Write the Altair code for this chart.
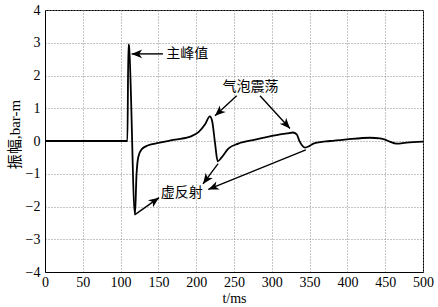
import math
import altair as alt
import pandas as pd

# signal
t_ms = [0, 109, 110.3, 111, 119, 121, 123.5, 128, 136.6, 150, 172, 194, 203, 212, 218,
        221, 225, 228.4, 233.7, 242.5, 255.7, 278, 311, 320, 328, 333, 337, 344, 350,
        355, 377, 399, 430, 443, 450, 456, 465, 478, 500]
amp = [0, 0, 2.95, 2.92, -2.25, -1.05, -0.48, -0.25, -0.13, -0.06, 0.04, 0.15, 0.27, 0.52, 0.75,
       0.62, -0.08, -0.62, -0.5, -0.23, -0.08, 0.04, 0.2, 0.23, 0.26, 0.2, -0.02, -0.2, -0.15,
       -0.08, 0, 0.05, 0.1, 0.08, 0.04, -0.02, -0.08, -0.05, -0.02]

# annotation arrows (tail -> head), data units
tail_t = [156, 253.5, 284.4, 119, 229, 345]
tail_v = [2.66, 1.38, 1.38, -2.25, -0.69, -0.27]
head_t = [114.6, 224.9, 324, 150.8, 209, 216]
head_v = [2.66, 0.77, 0.38, -1.73, -1.31, -1.48]

labels = ["主峰值", "气泡震荡", "虚反射"]
label_t = [188, 271.8, 180.8]
label_v = [2.66, 1.64, -1.6]

x_ticks = list(range(0, 501, 50))
y_ticks = list(range(-4, 5))

W, H = 378, 262
sx, sy = W / 500, H / 8

angles = []
for a, b, c, d in zip(tail_t, tail_v, head_t, head_v):
    dx = (c - a) * sx
    dy = -(d - b) * sy
    angles.append(math.degrees(math.atan2(dx, -dy)) % 360)

sig = pd.DataFrame({"t": t_ms, "v": amp})
arr = pd.DataFrame({"t": tail_t, "v": tail_v, "t2": head_t, "v2": head_v, "ang": angles})
lab = pd.DataFrame({"t": label_t, "v": label_v, "txt": labels})

xs = alt.Scale(domain=[0, 500], nice=False)
ys = alt.Scale(domain=[-4, 4], nice=False)

FONT = "Liberation Serif, Noto Sans CJK SC"

xax = alt.Axis(values=x_ticks, title="t/ms", grid=True, ticks=False,
               labelPadding=3, labelFontSize=14, labelFont=FONT, titleFont=FONT,
               titleFontSize=14, titleFontWeight="normal", titleY=19, titleBaseline="top",
               labelFlush=False, labelOverlap=False)
yax = alt.Axis(values=y_ticks, title="振幅,bar-m", grid=True, ticks=False,
               labelPadding=5, labelFontSize=14, labelFont=FONT, titleFont=FONT,
               titleFontSize=15, titleFontWeight="normal", titleX=-31, titleY=124,
               titleAngle=270, titleAlign="center", titleBaseline="middle",
               labelFlush=False, labelOverlap=False)

line = alt.Chart(sig).mark_line(color="black", strokeWidth=1.8, interpolate="monotone").encode(
    x=alt.X("t:Q", scale=xs, axis=xax),
    y=alt.Y("v:Q", scale=ys, axis=yax),
)

rules = alt.Chart(arr).mark_rule(color="black", strokeWidth=1.4).encode(
    x=alt.X("t:Q", scale=xs, axis=xax), y=alt.Y("v:Q", scale=ys, axis=yax),
    x2="t2:Q", y2="v2:Q"
)

heads = alt.Chart(arr).mark_point(
    shape="M0,0 L0.42,1 L0,0.72 L-0.42,1 Z", filled=True, color="black",
    size=440, opacity=1, strokeWidth=0
).encode(
    x=alt.X("t2:Q", scale=xs, axis=xax), y=alt.Y("v2:Q", scale=ys, axis=yax),
    angle=alt.Angle("ang:Q", scale=None)
)

texts = alt.Chart(lab).mark_text(font="Noto Sans CJK SC", fontSize=14, color="black",
                                 align="center", baseline="middle").encode(
    x=alt.X("t:Q", scale=xs, axis=xax), y=alt.Y("v:Q", scale=ys, axis=yax), text="txt:N"
)

chart = alt.layer(line, rules, heads, texts).properties(
    width=W, height=H,
    autosize=alt.AutoSizeParams(type="none"),
    padding={"left": 45, "top": 10, "right": 15, "bottom": 35},
    background="white",
).configure_view(stroke="black", strokeWidth=1).configure_axis(
    domainColor="black", domainWidth=1, gridColor="#8a8a8a", gridDash=[1, 2],
    gridWidth=1, labelColor="black", titleColor="black"
)

chart.save("out.html", embed_options={"renderer": "svg", "actions": False})
